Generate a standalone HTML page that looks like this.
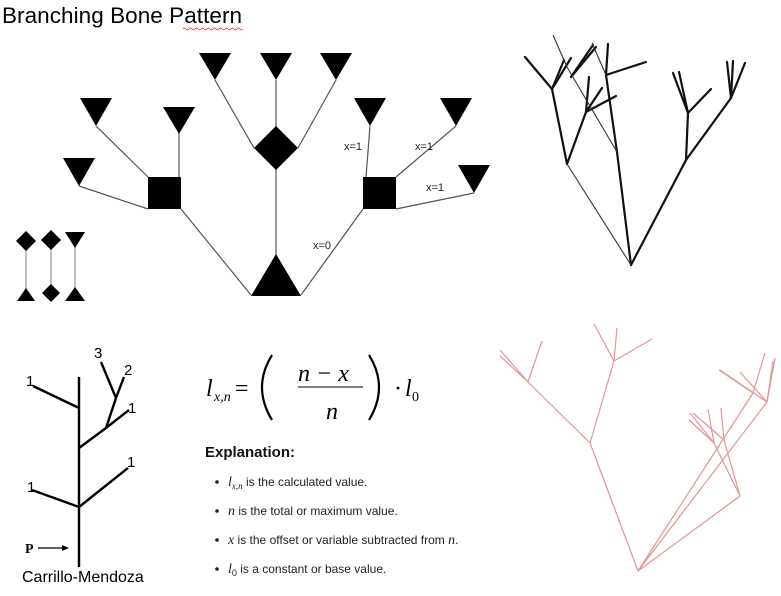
<!DOCTYPE html>
<html><head><meta charset="utf-8"><style>
html,body{margin:0;padding:0;background:#fff;}
svg{display:block;}
.m{font-family:"Liberation Serif",serif;font-style:italic;}
.t{font-family:"Liberation Sans",sans-serif;}
</style></head><body>
<svg width="781" height="596" viewBox="0 0 781 596" xmlns="http://www.w3.org/2000/svg">
<text x="2" y="23" class="t" font-size="22.5" fill="#000" textLength="240">Branching Bone Pattern</text>
<path d="M183 29 q1.5 -2 3 0 t3 0 t3 0 t3 0 t3 0 t3 0 t3 0 t3 0 t3 0 t3 0 t3 0 t3 0 t3 0 t3 0 t3 0 t3 0 t3 0 t3 0 t3 0 t3 0" stroke="#e33" stroke-width="0.8" fill="none"/>
<g stroke="#555" stroke-width="1.2" fill="none">
<line x1="251" y1="295" x2="181" y2="209"/>
<line x1="301" y1="295" x2="363" y2="209"/>
<line x1="276" y1="260" x2="276" y2="168"/>
<line x1="215" y1="80" x2="254" y2="148"/>
<line x1="276" y1="80" x2="276" y2="127"/>
<line x1="336" y1="80" x2="298" y2="148"/>
<line x1="96" y1="126" x2="148" y2="177"/>
<line x1="179" y1="133" x2="179" y2="177"/>
<line x1="79" y1="186" x2="148" y2="209"/>
<line x1="370" y1="126" x2="366" y2="177"/>
<line x1="456" y1="126" x2="396" y2="177"/>
<line x1="474" y1="193" x2="396" y2="209"/>
</g>
<g fill="#000">
<polygon points="276,254 251,296 301,296"/>
<rect x="148" y="177" width="33" height="32"/>
<rect x="363" y="177" width="33" height="32"/>
<polygon points="276,126 298,148 276,170 254,148"/>
<polygon points="199,53 231,53 215,80"/>
<polygon points="260,53 292,53 276,80"/>
<polygon points="320,53 352,53 336,80"/>
<polygon points="80,98 112,98 96,126"/>
<polygon points="163,107 195,107 179,134"/>
<polygon points="63,158 95,158 79,186"/>
<polygon points="354,98 386,98 370,126"/>
<polygon points="440,98 472,98 456,126"/>
<polygon points="458,165 490,165 474,193"/>
</g>
<g class="t" font-size="11" fill="#222">
<text x="344" y="150">x=1</text>
<text x="415" y="150">x=1</text>
<text x="426" y="191">x=1</text>
<text x="313" y="249">x=0</text>
</g>
<g stroke="#aaa" stroke-width="1.5">
<line x1="26" y1="248" x2="26" y2="290"/>
<line x1="51" y1="248" x2="51" y2="286"/>
<line x1="75" y1="246" x2="75" y2="290"/>
</g>
<g fill="#000">
<polygon points="26,231 36,241 26,251 16,241"/>
<polygon points="51,230 61,240 51,250 41,240"/>
<polygon points="65,232 85,232 75,248"/>
<polygon points="26,288 35,301 17,301"/>
<polygon points="51,284 60,293 51,302 42,293"/>
<polygon points="75,287 85,301 65,301"/>
</g>
<g stroke="#111" stroke-width="2.2" fill="none" stroke-linecap="round">
<line x1="631" y1="265" x2="617" y2="152"/>
<line x1="631" y1="265" x2="686" y2="160"/>
<line x1="567" y1="164" x2="552" y2="89"/>
<line x1="567" y1="164" x2="586" y2="112"/>
<line x1="552" y1="89" x2="525" y2="57"/>
<line x1="552" y1="89" x2="564" y2="60"/>
<line x1="552" y1="89" x2="571" y2="58"/>
<line x1="617" y1="152" x2="606" y2="75"/>
<line x1="606" y1="75" x2="608" y2="44"/>
<line x1="606" y1="75" x2="646" y2="62"/>
<line x1="586" y1="112" x2="589" y2="77"/>
<line x1="586" y1="112" x2="602" y2="88"/>
<line x1="586" y1="112" x2="616" y2="96"/>
<line x1="571" y1="77" x2="593" y2="45"/>
<line x1="571" y1="77" x2="596" y2="47"/>
<line x1="686" y1="160" x2="688" y2="113"/>
<line x1="688" y1="113" x2="673" y2="73"/>
<line x1="688" y1="113" x2="679" y2="72"/>
<line x1="688" y1="113" x2="711" y2="89"/>
<line x1="686" y1="160" x2="731" y2="98"/>
<line x1="731" y1="98" x2="727" y2="62"/>
<line x1="731" y1="98" x2="733" y2="61"/>
<line x1="731" y1="98" x2="745" y2="63"/>
</g>
<g stroke="#333" stroke-width="1.1" fill="none">
<line x1="631" y1="265" x2="567" y2="164"/>
<line x1="617" y1="152" x2="567" y2="67"/>
<line x1="567" y1="67" x2="553" y2="35"/>
<line x1="606" y1="75" x2="592" y2="43"/>
</g>
<g stroke="#e08a8a" stroke-width="1.2" fill="none" opacity="0.9">
<line x1="638" y1="571" x2="590" y2="443"/>
<line x1="590" y1="443" x2="614" y2="361"/>
<line x1="614" y1="361" x2="594" y2="324"/>
<line x1="614" y1="361" x2="617" y2="328"/>
<line x1="614" y1="361" x2="652" y2="339"/>
<line x1="590" y1="443" x2="528" y2="382"/>
<line x1="528" y1="382" x2="500" y2="350"/>
<line x1="528" y1="382" x2="500" y2="356"/>
<line x1="528" y1="382" x2="542" y2="341"/>
<line x1="638" y1="571" x2="767" y2="402"/>
<line x1="767" y1="402" x2="740" y2="372"/>
<line x1="767" y1="402" x2="720" y2="370"/>
<line x1="767" y1="402" x2="773" y2="361"/>
<line x1="767" y1="402" x2="775" y2="358"/>
<line x1="638" y1="571" x2="753" y2="393"/>
<line x1="753" y1="393" x2="719" y2="370"/>
<line x1="753" y1="393" x2="765" y2="353"/>
<line x1="638" y1="571" x2="740" y2="496"/>
<line x1="740" y1="496" x2="714" y2="443"/>
<line x1="714" y1="443" x2="690" y2="413"/>
<line x1="714" y1="443" x2="689" y2="420"/>
<line x1="714" y1="443" x2="708" y2="409"/>
<line x1="740" y1="496" x2="724" y2="440"/>
<line x1="724" y1="440" x2="721" y2="408"/>
<line x1="724" y1="440" x2="693" y2="413"/>
</g>
<g stroke="#000" stroke-width="2.4" fill="none">
<line x1="79" y1="377" x2="79" y2="567"/>
<line x1="79" y1="408" x2="33" y2="386"/>
<line x1="79" y1="448" x2="106" y2="428"/>
<line x1="106" y1="428" x2="129" y2="410"/>
<line x1="106" y1="428" x2="116" y2="398"/>
<line x1="116" y1="398" x2="101" y2="362"/>
<line x1="116" y1="398" x2="124" y2="377"/>
<line x1="79" y1="507" x2="32" y2="490"/>
<line x1="79" y1="507" x2="128" y2="468"/>
</g>
<g class="t" font-size="15" fill="#000">
<text x="26" y="386">1</text>
<text x="94" y="358">3</text>
<text x="124" y="375">2</text>
<text x="128" y="413">1</text>
<text x="27" y="492">1</text>
<text x="127" y="467">1</text>
</g>
<text x="25" y="553" font-family="Liberation Serif,serif" font-weight="bold" font-size="14">P</text>
<line x1="38" y1="548" x2="64" y2="548" stroke="#000" stroke-width="1.3"/>
<polygon points="69,548 62,545 62,551" fill="#000"/>
<text x="22" y="582" class="t" font-size="16">Carrillo-Mendoza</text>
<g class="m" fill="#000">
<text x="206" y="396" font-size="24">l</text>
<text x="214" y="401" font-size="14">x,n</text>
<text x="235" y="396" font-size="24" font-style="normal">=</text>
<text x="298" y="381" font-size="24">n − x</text>
<text x="326" y="419" font-size="24">n</text>
<text x="394" y="396" font-size="24" font-style="normal">·</text>
<text x="405" y="396" font-size="24">l</text>
<text x="412" y="401" font-size="14" font-style="normal">0</text>
</g>
<line x1="298" y1="387" x2="363" y2="387" stroke="#000" stroke-width="1"/>
<path d="M272 355 Q252 387 272 420" stroke="#000" stroke-width="2.2" fill="none"/>
<path d="M369 355 Q389 387 369 420" stroke="#000" stroke-width="2.2" fill="none"/>
<text x="205" y="457" class="t" font-size="15" font-weight="bold" fill="#111">Explanation:</text>
<g class="t" font-size="12" fill="#222">
<circle cx="217" cy="482" r="1.8"/><circle cx="217" cy="511" r="1.8"/><circle cx="217" cy="540" r="1.8"/><circle cx="217" cy="569" r="1.8"/>
<text x="228" y="486"><tspan class="m" font-size="14">l</tspan><tspan class="m" font-size="9" dy="3">x,n</tspan><tspan dy="-3"> is the calculated value.</tspan></text>
<text x="228" y="515"><tspan class="m" font-size="14">n</tspan> is the total or maximum value.</text>
<text x="228" y="544"><tspan class="m" font-size="14">x</tspan> is the offset or variable subtracted from <tspan class="m" font-size="14">n</tspan>.</text>
<text x="228" y="573"><tspan class="m" font-size="14">l</tspan><tspan font-size="9" dy="3">0</tspan><tspan dy="-3"> is a constant or base value.</tspan></text>
</g>
</svg>
</body></html>
